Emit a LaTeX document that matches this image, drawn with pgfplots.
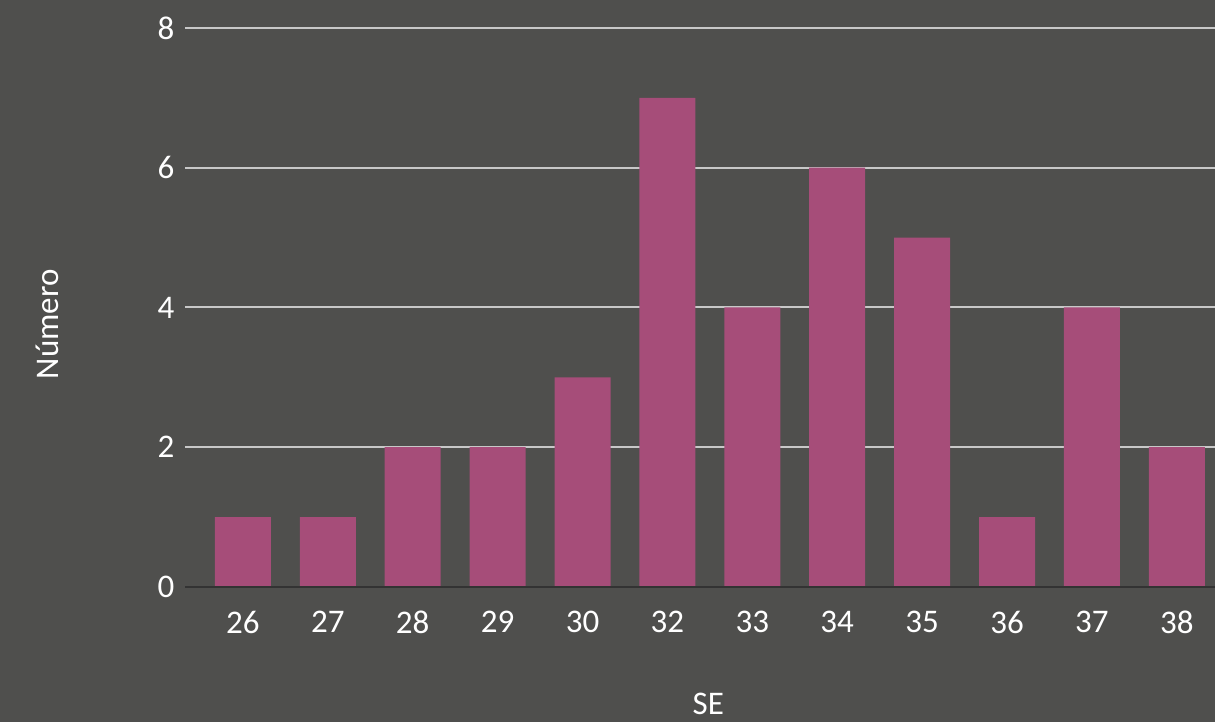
\documentclass[border=0pt]{standalone}
\usepackage{fontspec}
\setmainfont{Carlito}
\usepackage{pgfplots}
\pgfplotsset{compat=1.18}
\definecolor{bgcol}{HTML}{4F4F4D}
\definecolor{barcol}{HTML}{A64D79}
\definecolor{gridcol}{HTML}{C8C8C8}
\definecolor{basecol}{HTML}{333333}
\definecolor{txtcol}{HTML}{FFFFFF}
\newcommand{\bigf}{\fontsize{33}{39}\selectfont}
\begin{document}
\begin{tikzpicture}
\fill[bgcol] (0,0) rectangle (1215pt,722pt);
\begin{axis}[
  at={(185pt,135pt)}, anchor=south west,
  scale only axis, width=1030pt, height=559pt,
  xmin=-0.682, xmax=11.45, ymin=0, ymax=8,
  xtick={0,...,11},
  xticklabels={{\bigf 26},{\bigf 27},{\bigf 28},{\bigf 29},{\bigf 30},{\bigf 32},{\bigf 33},{\bigf 34},{\bigf 35},{\bigf 36},{\bigf 37},{\bigf 38}},
  ytick={0,2,4,6,8},
  yticklabels={{\bigf 0},{\bigf 2},{\bigf 4},{\bigf 6},{\bigf 8}},
  axis line style={draw=none},
  major tick length=0pt,
  ymajorgrids, grid style={gridcol, line width=2pt},
  tick label style={text=txtcol},
  xticklabel style={anchor=center, yshift=-35pt},
  yticklabel style={anchor=east, xshift=-7pt},
  xlabel={SE}, ylabel={Número},
  every axis x label/.style={at={(axis description cs:0.508,-0.21)}, anchor=center, font=\bigf, text=txtcol},
  every axis y label/.style={at={(axis description cs:-0.134,0.47)}, rotate=90, anchor=center, font=\bigf, text=txtcol},
  clip=false,
]
\addplot[ybar, bar width=56pt, fill=barcol, draw=none] coordinates {
  (0,1) (1,1) (2,2) (3,2) (4,3) (5,7) (6,4) (7,6) (8,5) (9,1) (10,4) (11,2)
};
\draw[basecol, line width=2.5pt] (axis cs:-0.682,0) -- (axis cs:11.45,0);
\end{axis}
\pgfresetboundingbox
\useasboundingbox (0,0) rectangle (1215pt,722pt);
\end{tikzpicture}
\end{document}
